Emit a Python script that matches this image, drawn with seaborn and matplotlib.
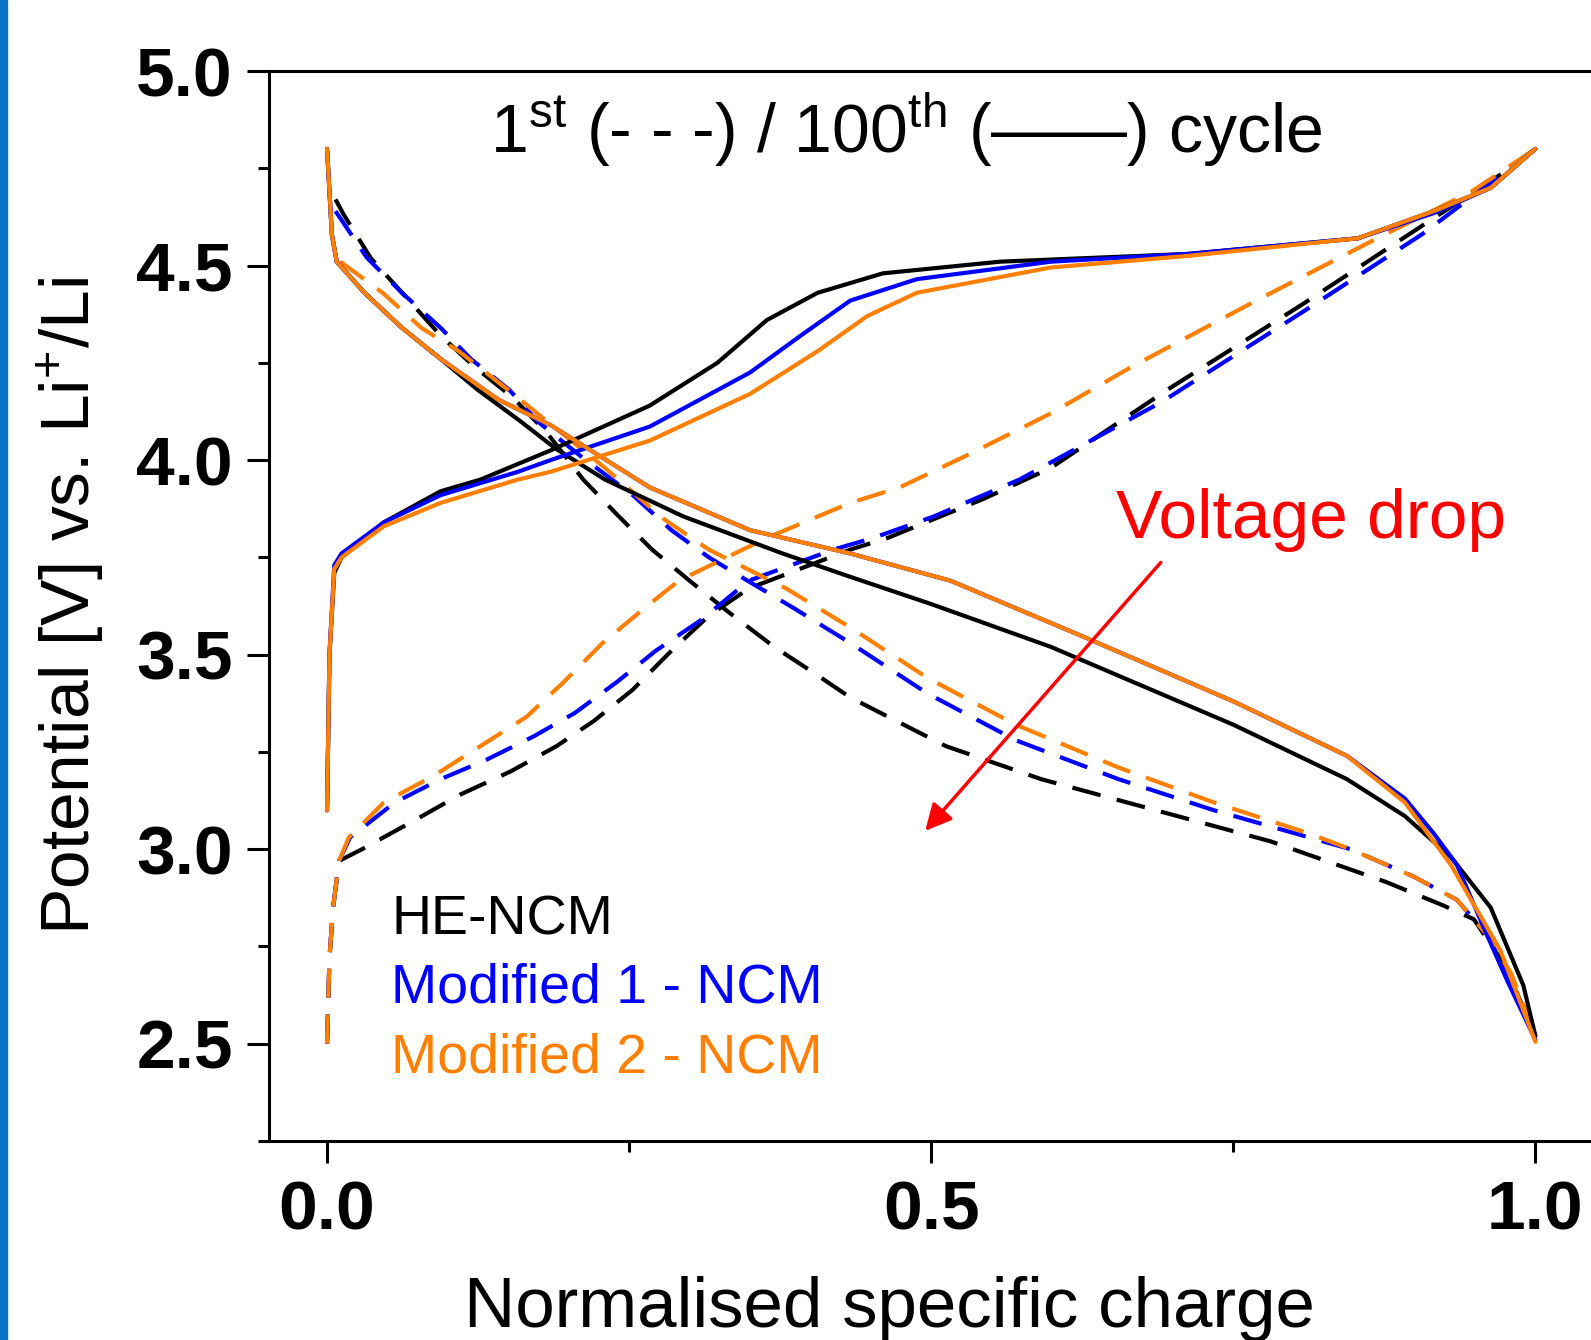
import numpy as np
import pandas as pd
import matplotlib
matplotlib.use('Agg')
import matplotlib.pyplot as plt
from matplotlib.patches import Rectangle
import seaborn as sns

# Dados (carga normalizada vs potencial)
samples = ['HE-NCM', 'Modified 1 - NCM', 'Modified 2 - NCM']
colors = ['#000000', '#0000FF', '#FF8000']

# 1º ciclo (tracejado) - carga
c1_x_he = [0.0, 0.002, 0.005, 0.01, 0.029, 0.07, 0.11, 0.152, 0.19, 0.221, 0.253, 0.285, 0.316, 0.349,
           0.433, 0.464, 0.543, 0.599, 0.695, 0.807, 0.91, 0.984]
c1_y_he = [2.50, 2.72, 2.85, 2.97, 3.00, 3.07, 3.14, 3.20, 3.265, 3.33, 3.41, 3.51, 3.60, 3.67,
           3.77, 3.80, 3.90, 3.98, 4.18, 4.40, 4.61, 4.76]
c1_x_m1 = [0.0, 0.002, 0.005, 0.01, 0.019, 0.056, 0.094, 0.132, 0.171, 0.205, 0.24, 0.272, 0.31, 0.349,
           0.419, 0.452, 0.502, 0.573, 0.691, 0.807, 0.906, 1.0]
c1_y_m1 = [2.50, 2.72, 2.85, 2.97, 3.03, 3.12, 3.18, 3.23, 3.29, 3.35, 3.43, 3.51, 3.59, 3.69,
           3.77, 3.80, 3.855, 3.95, 4.15, 4.38, 4.58, 4.80]
c1_x_m2 = [0.0, 0.002, 0.005, 0.01, 0.018, 0.047, 0.089, 0.127, 0.165, 0.196, 0.228, 0.259, 0.291, 0.364,
           0.433, 0.474, 0.528, 0.599, 0.666, 0.769, 0.869, 0.947, 1.0]
c1_y_m2 = [2.50, 2.72, 2.85, 2.97, 3.03, 3.12, 3.19, 3.265, 3.34, 3.43, 3.53, 3.61, 3.69, 3.80,
           3.89, 3.93, 4.01, 4.12, 4.24, 4.41, 4.57, 4.69, 4.80]

# 1º ciclo (tracejado) - descarga
d1_x_he = [0.007, 0.014, 0.036, 0.065, 0.094, 0.122, 0.154, 0.182, 0.212, 0.24, 0.269, 0.3, 0.332, 0.37,
           0.402, 0.433, 0.512, 0.591, 0.686, 0.781, 0.877, 0.924, 0.949, 0.975, 1.0]
d1_y_he = [4.67, 4.63, 4.52, 4.42, 4.32, 4.24, 4.16, 4.07, 3.95, 3.86, 3.77, 3.69, 3.61, 3.52,
           3.455, 3.39, 3.265, 3.18, 3.10, 3.02, 2.915, 2.855, 2.82, 2.70, 2.52]
d1_x_m1 = [0.007, 0.033, 0.062, 0.094, 0.119, 0.151, 0.174, 0.21, 0.253, 0.285, 0.316, 0.348, 0.386,
           0.433, 0.497, 0.57, 0.655, 0.734, 0.813, 0.847, 0.899, 0.935, 0.96, 0.98, 1.0]
d1_y_m1 = [4.64, 4.52, 4.43, 4.34, 4.26, 4.18, 4.10, 4.01, 3.91, 3.82, 3.75, 3.69, 3.62,
           3.53, 3.40, 3.28, 3.18, 3.10, 3.03, 3.00, 2.93, 2.87, 2.78, 2.66, 2.52]
d1_x_m2 = [0.011, 0.046, 0.078, 0.109, 0.15, 0.19, 0.23, 0.278, 0.316, 0.38, 0.433, 0.497, 0.57, 0.655,
           0.734, 0.813, 0.847, 0.899, 0.935, 0.96, 0.98, 1.0]
d1_y_m2 = [4.51, 4.43, 4.34, 4.28, 4.18, 4.08, 3.98, 3.85, 3.77, 3.67, 3.57, 3.44, 3.32, 3.21,
           3.12, 3.04, 3.00, 2.93, 2.87, 2.78, 2.68, 2.52]

# 100º ciclo (contínuo) - carga
c100_x_he = [0.0, 0.002, 0.006, 0.012, 0.047, 0.094, 0.127, 0.185, 0.267, 0.323, 0.364, 0.406, 0.46,
             0.557, 0.713, 0.853, 0.916, 0.963, 1.0]
c100_y_he = [3.10, 3.50, 3.71, 3.75, 3.84, 3.92, 3.95, 4.025, 4.14, 4.25, 4.36, 4.43, 4.48,
             4.51, 4.53, 4.57, 4.64, 4.70, 4.80]
c100_x_m1 = [0.0, 0.002, 0.006, 0.012, 0.047, 0.094, 0.158, 0.185, 0.267, 0.35, 0.392, 0.433, 0.488,
             0.599, 0.713, 0.853, 0.916, 0.963, 1.0]
c100_y_m1 = [3.10, 3.50, 3.73, 3.76, 3.84, 3.91, 3.97, 4.00, 4.086, 4.225, 4.32, 4.41, 4.465,
             4.51, 4.53, 4.57, 4.635, 4.70, 4.80]
c100_x_m2 = [0.0, 0.002, 0.006, 0.012, 0.047, 0.094, 0.158, 0.185, 0.267, 0.35, 0.406, 0.447, 0.488,
             0.599, 0.713, 0.853, 0.916, 0.963, 1.0]
c100_y_m2 = [3.10, 3.50, 3.72, 3.75, 3.83, 3.89, 3.95, 3.97, 4.05, 4.17, 4.28, 4.37, 4.43,
             4.495, 4.525, 4.57, 4.64, 4.70, 4.80]

# 100º ciclo (contínuo) - descarga
d100_x_he = [0.0, 0.004, 0.008, 0.031, 0.062, 0.094, 0.125, 0.16, 0.189, 0.23, 0.295, 0.377, 0.433,
             0.5, 0.599, 0.75, 0.844, 0.892, 0.93, 0.963, 0.99, 1.0]
d100_y_he = [4.80, 4.58, 4.51, 4.43, 4.34, 4.26, 4.18, 4.10, 4.03, 3.95, 3.855, 3.76, 3.70,
             3.63, 3.52, 3.32, 3.18, 3.085, 2.98, 2.85, 2.65, 2.52]
d100_x_m1 = [0.0, 0.004, 0.008, 0.031, 0.062, 0.094, 0.142, 0.185, 0.267, 0.35, 0.433, 0.516, 0.623,
             0.75, 0.844, 0.892, 0.916, 0.935, 0.957, 0.977, 1.0]
d100_y_m1 = [4.80, 4.58, 4.51, 4.43, 4.34, 4.26, 4.155, 4.09, 3.93, 3.82, 3.76, 3.69, 3.55,
             3.38, 3.24, 3.13, 3.04, 2.96, 2.80, 2.66, 2.51]
d100_x_m2 = [0.0, 0.004, 0.008, 0.031, 0.062, 0.094, 0.142, 0.185, 0.267, 0.35, 0.433, 0.516, 0.623,
             0.75, 0.844, 0.892, 0.93, 0.971, 1.0]
d100_y_m2 = [4.80, 4.58, 4.51, 4.43, 4.34, 4.26, 4.155, 4.09, 3.93, 3.82, 3.76, 3.69, 3.55,
             3.38, 3.24, 3.12, 2.96, 2.74, 2.505]

first_cycle = [
    [(c1_x_he, c1_y_he), (d1_x_he, d1_y_he)],
    [(c1_x_m1, c1_y_m1), (d1_x_m1, d1_y_m1)],
    [(c1_x_m2, c1_y_m2), (d1_x_m2, d1_y_m2)],
]
cycle_100 = [
    [(c100_x_he, c100_y_he), (d100_x_he, d100_y_he)],
    [(c100_x_m1, c100_y_m1), (d100_x_m1, d100_y_m1)],
    [(c100_x_m2, c100_y_m2), (d100_x_m2, d100_y_m2)],
]

# Configurações visuais
sns.set_style('ticks')
plt.rcParams['font.family'] = ['Liberation Sans', 'DejaVu Sans']
plt.rcParams['mathtext.fontset'] = 'custom'
plt.rcParams['mathtext.rm'] = 'Liberation Sans'
plt.rcParams['mathtext.it'] = 'Liberation Sans:italic'
plt.rcParams['mathtext.bf'] = 'Liberation Sans:bold'
plt.rcParams['text.color'] = 'black'
plt.rcParams['axes.labelcolor'] = 'black'
plt.rcParams['xtick.color'] = 'black'
plt.rcParams['ytick.color'] = 'black'

fig = plt.figure(figsize=(15.91, 13.40), dpi=100)
ax = fig.add_axes([0.1691, 0.1485, 0.8309, 0.7985])

lw = 3.0
for i in range(3):
    for xs, ys in first_cycle[i]:
        sns.lineplot(x=xs, y=ys, ax=ax, sort=False, estimator=None, color=colors[i],
                     lw=lw, linestyle=(0, (7.0, 4.0)))
for i in range(3):
    for xs, ys in cycle_100[i]:
        sns.lineplot(x=xs, y=ys, ax=ax, sort=False, estimator=None, color=colors[i],
                     lw=lw, linestyle='-')

ax.set_xlim(-0.048, 1.046)
ax.set_ylim(2.25, 5.0)
ax.set_xticks([0.0, 0.5, 1.0])
ax.set_xticks([0.25, 0.75], minor=True)
ax.set_yticks([2.5, 3.0, 3.5, 4.0, 4.5, 5.0])
ax.set_yticks(np.arange(2.25, 5.0, 0.5), minor=True)
ax.set_xticklabels(['0.0', '0.5', '1.0'], fontsize=50, fontweight='bold')
ax.set_yticklabels(['2.5', '3.0', '3.5', '4.0', '4.5', '5.0'], fontsize=50, fontweight='bold')
ax.tick_params(which='major', direction='out', length=16, width=2.2, color='black')
ax.tick_params(which='minor', direction='out', length=8, width=2.2, color='black')
ax.tick_params(axis='x', which='major', pad=12)
ax.tick_params(axis='y', which='major', pad=10)

for side in ['left', 'bottom', 'top']:
    ax.spines[side].set_linewidth(2.2)
    ax.spines[side].set_color('black')
ax.spines['right'].set_visible(False)

ax.set_xlabel('Normalised specific charge', fontsize=51)
ax.xaxis.set_label_coords(0.469, -0.126)
ax.set_ylabel('Potential [V] vs. Li$^{+}$/Li', fontsize=50, labelpad=22)

# Título dentro do gráfico
ax.text(0.479, 4.79, '1$^{\\mathrm{st}}$ (- - -) / 100$^{\\mathrm{th}}$ (——) cycle',
        fontsize=49, ha='center', va='baseline', color='black')

# Legenda como texto colorido
legend_y = [2.78, 2.605, 2.427]
for name, c, yy in zip(samples, colors, legend_y):
    ax.text(0.053, yy, name, fontsize=40, color=c, ha='left', va='baseline')

# Seta de queda de tensão
ax.text(0.653, 3.80, 'Voltage drop', fontsize=50, color='#FF0000', ha='left', va='baseline')
ax.annotate('', xy=(0.495, 3.047), xytext=(0.69, 3.737),
            arrowprops=dict(arrowstyle='-|>', color='#FF0000', lw=2.5, mutation_scale=40,
                            shrinkA=0, shrinkB=0))

# Barra azul na borda esquerda
fig.patches.append(Rectangle((0, 0), 7 / 1591, 1, transform=fig.transFigure,
                             color='#0B72C4', zorder=10))

plt.savefig('out.png', dpi=100)
